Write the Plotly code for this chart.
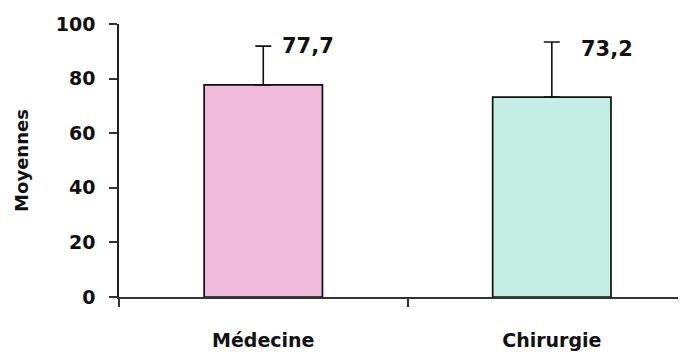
import plotly.graph_objects as go

categories = ["Médecine", "Chirurgie"]
means = [77.7, 73.2]
sd_plus = [14.2, 20.2]
value_labels = ["77,7", "73,2"]
bar_colors = ["#F0BADA", "#C4EEE4"]
y_ticks = [0, 20, 40, 60, 80, 100]

FONT = "DejaVu Sans"

fig = go.Figure()
fig.add_trace(go.Bar(
    x=categories,
    y=means,
    width=0.41,
    marker=dict(color=bar_colors, line=dict(color="#111", width=1.7)),
    error_y=dict(type="data", array=sd_plus, arrayminus=[0, 0], symmetric=False,
                 color="#111", thickness=1.6, width=8),
    showlegend=False,
    hoverinfo="skip",
))

label_xshift = [17, 27]
label_yshift = [0, -7]
for i, (c, m, s, t) in enumerate(zip(categories, means, sd_plus, value_labels)):
    fig.add_annotation(
        x=c, y=m + s, text=t, showarrow=False,
        xanchor="left", yanchor="middle",
        xshift=label_xshift[i], yshift=label_yshift[i],
        font=dict(family=FONT, size=21, color="#111", weight="bold"),
    )

fig.update_layout(
    width=678, height=344,
    margin=dict(l=111, r=0, t=16, b=55),
    plot_bgcolor="white", paper_bgcolor="white",
    xaxis=dict(
        type="category",
        range=[-0.5, 1.465],
        showline=True, linecolor="#333", linewidth=1.5,
        ticks="outside", tickson="boundaries", ticklen=8, tickwidth=1.5, tickcolor="#333",
        showgrid=False, zeroline=False,
        tickfont=dict(family=FONT, size=19, color="#111", weight="bold"),
        ticklabelstandoff=25,
    ),
    yaxis=dict(
        range=[0, 100],
        tickvals=y_ticks,
        showline=True, linecolor="#222", linewidth=1.5,
        ticks="outside", ticklen=8, tickwidth=1.5, tickcolor="#333",
        showgrid=False, zeroline=False,
        tickfont=dict(family=FONT, size=19, color="#111", weight="bold"),
        ticklabelstandoff=10,
        title=dict(text="Moyennes", standoff=22,
                   font=dict(family=FONT, size=18, color="#111", weight="bold")),
        automargin=False,
    ),
)

fig.write_html("out.html")
